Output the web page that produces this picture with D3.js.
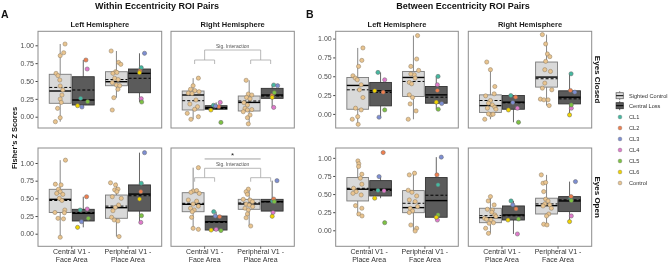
<!DOCTYPE html>
<html><head><meta charset="utf-8">
<script src="https://cdn.jsdelivr.net/npm/d3@7"></script>
<style>body{margin:0;background:#fff}svg{display:block;will-change:transform;-webkit-font-smoothing:antialiased}</style>
</head><body><svg id="c" width="669" height="265"></svg>
<script>
// ---------------- DATA ----------------
const conditions = ["Eyes Closed", "Eyes Open"];
const hemispheres = ["Left Hemisphere", "Right Hemisphere"];
const groups = ["Sighted Control", "Central Loss"];
const pointKeys = ["CL1", "CL2", "CL3", "CL4", "CL5", "CL6", "Control"];
const pointColors = ["#45b8a0", "#ee7f4f", "#7d8ed2", "#e07acb", "#7dc243", "#f1d400", "#e9c48f"];
const catsA = [["Central V1 -", "Face Area"], ["Peripheral V1 -", "Place Area"]];
const catsB = [["Central V1 -", "Place Area"], ["Peripheral V1 -", "Face Area"]];
const plotTitles = ["Within Eccentricity ROI Pairs", "Between Eccentricity ROI Pairs"];
const yTicks = [0, 0.25, 0.5, 0.75, 1];
const yTickLabels = ["0.00", "0.25", "0.50", "0.75", "1.00"];

// box stats: [plot, cond, hemi, cat, group, whiskerLow, q1, median, q3, whiskerHigh, mean]
const boxesA = [
  ["A",0,0,0,0, -0.07,0.188,0.36,0.594,1.018,0.41],
  ["A",0,0,0,1, 0.136,0.164,0.234,0.56,0.794,0.374],
  ["A",0,0,1,0, 0.266,0.434,0.49,0.63,0.92,0.52],
  ["A",0,0,1,1, 0.206,0.336,0.607,0.668,0.888,0.538],
  ["A",0,1,0,0, -0.036,0.094,0.304,0.36,0.54,0.224],
  ["A",0,1,0,1, 0.094,0.104,0.126,0.154,0.20,0.115],
  ["A",0,1,1,0, -0.10,0.08,0.20,0.29,0.51,0.22],
  ["A",0,1,1,1, 0.13,0.257,0.304,0.397,0.444,0.29],
  ["A",1,0,0,0, -0.05,0.30,0.486,0.628,1.04,0.47],
  ["A",1,0,0,1, 0.09,0.18,0.288,0.345,0.523,0.30],
  ["A",1,0,1,0, -0.04,0.218,0.368,0.547,0.72,0.39],
  ["A",1,0,1,1, 0.16,0.32,0.56,0.69,1.146,0.537],
  ["A",1,1,0,0, 0.062,0.311,0.416,0.58,0.934,0.43],
  ["A",1,1,0,1, 0.045,0.052,0.17,0.25,0.311,0.16],
  ["A",1,1,1,0, 0.109,0.345,0.42,0.486,0.63,0.435],
  ["A",1,1,1,1, 0.246,0.32,0.453,0.486,0.75,0.45]
];
const boxesB = [
  ["B",0,0,0,0, -0.138,0.062,0.378,0.484,0.876,0.32],
  ["B",0,0,0,1, -0.044,0.107,0.307,0.418,0.551,0.284],
  ["B",0,0,1,0, -0.071,0.231,0.484,0.564,1.04,0.431],
  ["B",0,0,1,1, 0.062,0.142,0.253,0.364,0.498,0.222],
  ["B",0,1,0,0, -0.071,0.02,0.11,0.253,0.587,0.178],
  ["B",0,1,0,1, -0.111,0.062,0.156,0.244,0.244,0.147],
  ["B",0,1,1,0, 0.111,0.356,0.489,0.689,1.053,0.467],
  ["B",0,1,1,1, -0.013,0.133,0.222,0.307,0.533,0.20],
  ["B",1,0,0,0, 0.198,0.405,0.567,0.728,0.958,0.58],
  ["B",1,0,0,1, 0.443,0.474,0.567,0.686,0.741,0.549],
  ["B",1,0,1,0, -0.01,0.243,0.313,0.548,0.788,0.373],
  ["B",1,0,1,1, 0.142,0.18,0.41,0.728,1.01,0.484],
  ["B",1,1,0,0, -0.042,0.105,0.174,0.304,0.465,0.202],
  ["B",1,1,0,1, -0.051,0.142,0.212,0.336,0.405,0.20],
  ["B",1,1,1,0, 0.074,0.225,0.34,0.443,0.765,0.364],
  ["B",1,1,1,1, 0.12,0.258,0.405,0.465,0.672,0.42]
];

// sighted control points: [plot, cond, hemi, cat, [[value, jitter], ...]]
const controlsA = [
  ["A",0,0,0,[[1.018,.22],[.896,.16],[.855,0],[.607,-.19],[.575,-.1],[.514,-.02],[.43,0],[.374,.12],[.304,.08],[.248,0],[.2,.05],[.117,-.12],[-.014,0],[-.07,-.22]]],
  ["A",0,0,1,[[.92,-.24],[.76,.1],[.734,.2],[.63,-.04],[.607,-.16],[.62,.02],[.538,-.08],[.52,.08],[.476,-.19],[.444,0],[.434,.15],[.384,.07],[.266,-.12],[.094,-.19]]],
  ["A",0,1,0,[[.54,.24],[.434,0],[.384,-.12],[.365,.08],[.35,.27],[.33,-.22],[.324,-.05],[.234,.13],[.178,-.15],[.14,.2],[.104,.07],[.048,-.27],[0,.24],[-.036,-.1]]],
  ["A",0,1,1,[[.51,-.14],[.318,-.04],[.304,.12],[.27,-.12],[.196,-.24],[.25,.04],[.164,-.08],[.118,-.19],[.094,-.08],[.10,.12],[.07,-.27],[.024,.04],[-.014,-.08],[-.10,-.04]]],
  ["A",1,0,0,[[1.04,.24],[.70,-.22],[.69,.04],[.628,-.08],[.594,0],[.57,-.16],[.556,.12],[.50,-.04],[.47,.08],[.30,-.24],[.335,.21],[.296,.19],[.218,-.1],[.21,.15],[-.05,0]]],
  ["A",1,0,1,[[.72,-.27],[.69,-.04],[.62,-.08],[.63,.07],[.594,.02],[.50,.22],[.523,-.19],[.406,.1],[.372,-.05],[.325,-.16],[.232,-.22],[.194,-.1],[.18,.07],[-.04,.12]]],
  ["A",1,1,0,[[.934,.24],[.604,0],[.585,-.1],[.61,.16],[.57,.28],[.477,-.22],[.46,.16],[.42,0],[.39,.24],[.36,-.12],[.335,.05],[.311,-.04],[.232,-.07],[.076,0],[.062,.24]]],
  ["A",1,1,1,[[.63,-.04],[.594,-.14],[.557,-.08],[.486,-.27],[.476,.04],[.453,.15],[.42,-.14],[.406,0],[.383,.16],[.36,-.19],[.335,-.04],[.279,-.08],[.226,-.14],[.109,.07]]]
];
const controlsB = [
  ["B",0,0,0,[[.876,.24],[.711,.19],[.631,.04],[.507,-.22],[.476,-.11],[.453,-.02],[.387,.16],[.32,.08],[.218,.24],[.076,-.1],[.053,.16],[-.036,0],[-.071,-.25],[-.138,.02]]],
  ["B",0,0,1,[[1.04,.19],[.729,.15],[.631,-.12],[.578,.24],[.52,.04],[.53,-.12],[.476,.08],[.418,-.19],[.40,-.08],[.253,-.19],[.218,-.04],[.133,-.15],[.04,.12],[-.071,-.24]]],
  ["B",0,1,0,[[.689,-.17],[.587,0],[.364,.2],[.24,-.22],[.267,.17],[.178,0],[.142,-.09],[.12,.09],[.076,-.14],[.09,.2],[-.013,.02],[0,-.09],[-.004,.12],[-.071,-.26],[.062,.25]]],
  ["B",0,1,1,[[1.053,-.19],[.929,-.04],[.796,.04],[.76,.15],[.698,-.04],[.587,-.08],[.564,.18],[.409,-.08],[.342,-.19],[.32,.24],[.196,-.28],[.187,-.12],[.187,.07],[.111,.12]]],
  ["B",1,0,0,[[.958,.01],[.918,.05],[.88,.04],[.774,.19],[.72,.12],[.636,.19],[.58,-.19],[.534,-.07],[.51,-.22],[.488,.16],[.34,-.1],[.304,.19],[.225,.05],[.198,.2]]],
  ["B",1,0,1,[[.788,.05],[.765,-.19],[.553,-.24],[.525,-.07],[.474,.15],[.419,-.19],[.396,.08],[.327,.19],[.304,-.15],[.267,-.04],[.245,-.19],[.073,-.12],[.028,.15],[-.01,.08]]],
  ["B",1,1,0,[[.465,0],[.405,-.1],[.35,.17],[.28,.09],[.29,-.14],[.212,.2],[.166,-.27],[.152,-.18],[.143,.02],[.105,.14],[.097,-.06],[.028,-.22],[-.042,-.09],[.189,.25],[.249,.06]]],
  ["B",1,1,1,[[.765,-.24],[.65,-.16],[.66,-.04],[.534,-.13],[.429,-.04],[.405,.07],[.364,-.08],[.35,.15],[.336,-.16],[.225,.1],[.198,0],[.083,-.13],[.074,.02],[.304,.22]]]
];

// central-loss participants CL1..CL6: [plot, cond, hemi, cat, [[value, jitter] x6]]
const centralLossA = [
  ["A",0,0,0,[[.257,-.12],[.794,.12],[.136,-.06],[.668,.18],[.21,.2],[.154,-.26]]],
  ["A",0,0,1,[[.686,.08],[.64,.02],[.888,.23],[.252,.08],[.206,.1],[.616,0]]],
  ["A",0,1,0,[[.16,-.12],[.14,.12],[.15,-.03],[.20,.19],[-.08,.22],[.094,-.24]]],
  ["A",0,1,1,[[.444,.07],[.30,0],[.434,.25],[.13,.07],[.336,.1],[.27,0]]],
  ["A",1,0,0,[[.335,-.14],[.523,.15],[.17,-.08],[.349,.18],[.218,.23],[.09,-.26]]],
  ["A",1,0,1,[[.713,.08],[.594,.06],[1.146,.23],[.16,.06],[.255,.09],[.49,0]]],
  ["A",1,1,0,[[.311,-.11],[.24,.16],[.25,-.04],[.062,0],[.045,.22],[.052,-.23]]],
  ["A",1,1,1,[[.46,.02],[.49,.07],[.75,.22],[.30,.04],[.453,.1],[.246,0]]]
];
const centralLossB = [
  ["B",0,0,0,[[.551,-.12],[.289,.12],[-.044,-.07],[.453,.19],[.053,.19],[.307,-.27]]],
  ["B",0,0,1,[[.498,.08],[.311,.05],[.138,.25],[.387,.05],[.062,.09],[.156,0]]],
  ["B",0,1,0,[[.244,-.12],[.222,.1],[.151,-.03],[.076,.18],[-.111,.23],[.053,-.23]]],
  ["B",0,1,1,[[.533,.07],[.311,.04],[.289,.24],[.076,.08],[.12,.08],[-.013,0]]],
  ["B",1,0,0,[[.55,-.12],[1.073,.12],[.741,-.07],[.545,.16],[.105,.19],[.443,-.27]]],
  ["B",1,0,1,[[.627,.08],[.765,.03],[1.01,.23],[.142,.05],[.212,.08],[.18,0]]],
  ["B",1,1,0,[[.405,-.11],[.295,.12],[.35,-.03],[-.051,.18],[.156,.23],[.142,-.25]]],
  ["B",1,1,1,[[.44,.05],[.465,.07],[.672,.27],[.198,.08],[.41,.08],[.12,0]]]
];

// significance annotations (plot A, right hemisphere): [cond, label, star]
const annotations = [[0, "Sig. Interaction", ""], [1, "Sig. Interaction", "*"]];

// ---------------- LAYOUT ----------------
const FONT = "'Liberation Sans', Arial, Helvetica, sans-serif";
const svg = d3.select("#c");
svg.append("rect").attr("width", 669).attr("height", 265).attr("fill", "#fff");

const rowsY = [[31.3, 128], [148, 246.3]];
const plotCfg = {
  A: { cats: catsA, xr: [[38, 161.7], [171, 294.3]], yd: [[-0.158, 1.196], [-0.178, 1.212]],
       boxes: boxesA, ctrl: controlsA, cl: centralLossA, titleX: 157, letterX: 1 },
  B: { cats: catsB, xr: [[335.7, 458.3], [468.3, 591.7]], yd: [[-0.187, 1.097], [-0.221, 1.136]],
       boxes: boxesB, ctrl: controlsB, cl: centralLossB, titleX: 463, letterX: 306 }
};

function scalesFor(p, cond, hemi) {
  const cfg = plotCfg[p];
  const x = d3.scalePoint().domain([0, 1]).range(cfg.xr[hemi]).padding(0.6);
  const dodge = d3.scaleBand().domain(groups).range([-0.4 * x.step(), 0.4 * x.step()]).paddingInner(0.05);
  const y = d3.scaleLinear().domain(cfg.yd[cond]).range([rowsY[cond][1], rowsY[cond][0]]);
  return { x, dodge, y };
}
function boxCenter(s, cat, g) {
  return s.x(cat) + s.dodge(groups[g]) + s.dodge.bandwidth() / 2;
}

["A", "B"].forEach((p, pi) => {
  const cfg = plotCfg[p];
  svg.append("text").attr("x", cfg.titleX).attr("y", 8.5).attr("text-anchor", "middle")
    .attr("font-family", FONT).attr("font-weight", "bold").attr("font-size", 9).attr("fill", "#111")
    .text(plotTitles[pi]);
  svg.append("text").attr("x", cfg.letterX).attr("y", 18).attr("font-family", FONT)
    .attr("font-weight", "bold").attr("font-size", 10.5).attr("fill", "#111").text(p);

  for (let cond = 0; cond < 2; cond++) {
    const s0 = scalesFor(p, cond, 0);
    const yAxis = svg.append("g").attr("transform", `translate(${cfg.xr[0][0]},0)`)
      .call(d3.axisLeft(s0.y).tickValues(yTicks).tickFormat((d, i) => yTickLabels[i]).tickSize(2.5).tickPadding(1.5));
    yAxis.select(".domain").remove();
    yAxis.selectAll("line").attr("stroke", "#444");
    yAxis.selectAll("text").attr("font-family", FONT).attr("font-size", 7).attr("fill", "#4d4d4d");

    for (let hemi = 0; hemi < 2; hemi++) {
      const s = scalesFor(p, cond, hemi);
      const [x0, x1] = cfg.xr[hemi];
      const [yt, yb] = rowsY[cond];
      const g = svg.append("g");
      g.append("rect").attr("x", x0).attr("y", yt).attr("width", x1 - x0).attr("height", yb - yt)
        .attr("fill", "#fff");

      if (cond === 0) {
        svg.append("text").attr("x", (x0 + x1) / 2).attr("y", 26.5).attr("text-anchor", "middle")
          .attr("font-family", FONT).attr("font-weight", "bold").attr("font-size", 7.5).attr("fill", "#1a1a1a")
          .text(hemispheres[hemi]);
      }

      cfg.boxes.filter(b => b[1] === cond && b[2] === hemi).forEach(b => {
        const [, , , cat, gi, lo, q1, med, q3, hi, mean] = b;
        const cx = boxCenter(s, cat, gi);
        const w = s.dodge.bandwidth();
        const light = gi === 0;
        g.append("line").attr("x1", cx).attr("x2", cx).attr("y1", s.y(hi)).attr("y2", s.y(q3))
          .attr("stroke", light ? "#7a7a7a" : "#555").attr("stroke-width", 0.9);
        g.append("line").attr("x1", cx).attr("x2", cx).attr("y1", s.y(q1)).attr("y2", s.y(lo))
          .attr("stroke", light ? "#7a7a7a" : "#555").attr("stroke-width", 0.9);
        g.append("rect").attr("x", cx - w / 2).attr("y", s.y(q3)).attr("width", w)
          .attr("height", Math.max(0.5, s.y(q1) - s.y(q3)))
          .attr("fill", light ? "#d9d9d9" : "#5b5b5b").attr("stroke", light ? "#7a7a7a" : "#333")
          .attr("stroke-width", 0.9);
        g.append("line").attr("x1", cx - w / 2).attr("x2", cx + w / 2).attr("y1", s.y(med)).attr("y2", s.y(med))
          .attr("stroke", "#000").attr("stroke-width", 1.4);
        g.append("line").attr("x1", cx - w / 2).attr("x2", cx + w / 2).attr("y1", s.y(mean)).attr("y2", s.y(mean))
          .attr("stroke", "#000").attr("stroke-width", 1).attr("stroke-dasharray", "3,2");
      });

      cfg.ctrl.filter(c => c[1] === cond && c[2] === hemi).forEach(c => {
        const cx = boxCenter(s, c[3], 0), w = s.dodge.bandwidth();
        c[4].forEach(([v, j]) => {
          g.append("circle").attr("cx", cx + j * w).attr("cy", s.y(v)).attr("r", 2.1)
            .attr("fill", pointColors[6]).attr("stroke", "#8a7b63").attr("stroke-width", 0.5);
        });
      });
      cfg.cl.filter(c => c[1] === cond && c[2] === hemi).forEach(c => {
        const cx = boxCenter(s, c[3], 1), w = s.dodge.bandwidth();
        c[4].forEach(([v, j], k) => {
          g.append("circle").attr("cx", cx + j * w).attr("cy", s.y(v)).attr("r", 2.1)
            .attr("fill", pointColors[k]).attr("stroke", "#666").attr("stroke-width", 0.5);
        });
      });

      g.append("rect").attr("x", x0).attr("y", yt).attr("width", x1 - x0).attr("height", yb - yt)
        .attr("fill", "none").attr("stroke", "#8c8c8c").attr("stroke-width", 1);

      if (cond === 1) {
        [0, 1].forEach(cat => {
          const cx = s.x(cat);
          svg.append("line").attr("x1", cx).attr("x2", cx).attr("y1", yb).attr("y2", yb + 2.5)
            .attr("stroke", "#444").attr("stroke-width", 0.8);
          const t = svg.append("text").attr("x", cx).attr("y", 253.5).attr("text-anchor", "middle")
            .attr("font-family", FONT).attr("font-size", 7).attr("fill", "#333");
          cfg.cats[cat].forEach((line, li) => t.append("tspan").attr("x", cx).attr("dy", li ? 8 : 0).text(line));
        });
      }

      if (p === "A" && hemi === 1) {
        const ann = annotations.find(a => a[0] === cond);
        if (ann) {
          const gc = [s.x(0), s.x(1)];
          const bx = [[boxCenter(s, 0, 0) + 1.5, boxCenter(s, 0, 1) - 1.5], [boxCenter(s, 1, 0) + 1.5, boxCenter(s, 1, 1) - 1.5]];
          const lv = cond === 0 ? { top: 0.934, leg: 0.794, tick: 0.738, text: 0.99 }
                                : { top: 0.925, leg: 0.792, tick: 0.735, text: 0.98, star: 1.057, starText: 1.12 };
          const col = "#a6a6a6";
          const path = d3.path();
          path.moveTo(gc[0], s.y(lv.leg)); path.lineTo(gc[0], s.y(lv.top));
          path.lineTo(gc[1], s.y(lv.top)); path.lineTo(gc[1], s.y(lv.leg));
          bx.forEach(([a, b]) => {
            path.moveTo(a, s.y(lv.tick)); path.lineTo(a, s.y(lv.leg));
            path.lineTo(b, s.y(lv.leg)); path.lineTo(b, s.y(lv.tick));
          });
          g.append("path").attr("d", path.toString()).attr("fill", "none").attr("stroke", col).attr("stroke-width", 0.8);
          g.append("text").attr("x", (gc[0] + gc[1]) / 2).attr("y", s.y(lv.text) + 1.7).attr("text-anchor", "middle")
            .attr("font-family", FONT).attr("font-size", 5).attr("fill", "#555").text(ann[1]);
          if (ann[2]) {
            g.append("line").attr("x1", gc[0]).attr("x2", gc[1]).attr("y1", s.y(lv.star)).attr("y2", s.y(lv.star))
              .attr("stroke", "#8c8c8c").attr("stroke-width", 0.8);
            g.append("text").attr("x", (gc[0] + gc[1]) / 2).attr("y", s.y(lv.starText) + 3.5).attr("text-anchor", "middle")
              .attr("font-family", FONT).attr("font-size", 8).attr("fill", "#222").text(ann[2]);
          }
        }
      }
    }
  }
});

svg.append("text").attr("transform", "translate(17,138) rotate(-90)").attr("text-anchor", "middle")
  .attr("font-family", FONT).attr("font-weight", "bold").attr("font-size", 7.5).attr("fill", "#111")
  .text("Fisher's Z Scores");

conditions.forEach((c, i) => {
  const cy = (rowsY[i][0] + rowsY[i][1]) / 2;
  svg.append("text").attr("transform", `translate(595,${cy}) rotate(90)`).attr("text-anchor", "middle")
    .attr("font-family", FONT).attr("font-weight", "bold").attr("font-size", 8).attr("fill", "#111").text(c);
});

const lg = svg.append("g");
groups.forEach((gname, i) => {
  const cy = 95.7 + i * 10;
  const cx = 619.7;
  lg.append("line").attr("x1", cx).attr("x2", cx).attr("y1", cy - 4.5).attr("y2", cy + 4.5)
    .attr("stroke", i ? "#333" : "#666").attr("stroke-width", 0.8);
  lg.append("rect").attr("x", cx - 3.6).attr("y", cy - 3).attr("width", 7.2).attr("height", 6)
    .attr("fill", i ? "#5b5b5b" : "#d9d9d9").attr("stroke", i ? "#333" : "#666").attr("stroke-width", 0.8);
  lg.append("line").attr("x1", cx - 3.6).attr("x2", cx + 3.6).attr("y1", cy).attr("y2", cy)
    .attr("stroke", "#000").attr("stroke-width", 1);
  lg.append("text").attr("x", 629).attr("y", cy + 2).attr("font-family", FONT).attr("font-size", 5.6)
    .attr("fill", "#333").text(gname);
});
pointKeys.forEach((k, i) => {
  const cy = 117 + i * 11;
  lg.append("circle").attr("cx", 620).attr("cy", cy).attr("r", 1.9).attr("fill", pointColors[i])
    .attr("stroke", "#777").attr("stroke-width", 0.4);
  lg.append("text").attr("x", 629).attr("y", cy + 2).attr("font-family", FONT).attr("font-size", 5.6)
    .attr("fill", "#333").text(k);
});
</script>
</body></html>
